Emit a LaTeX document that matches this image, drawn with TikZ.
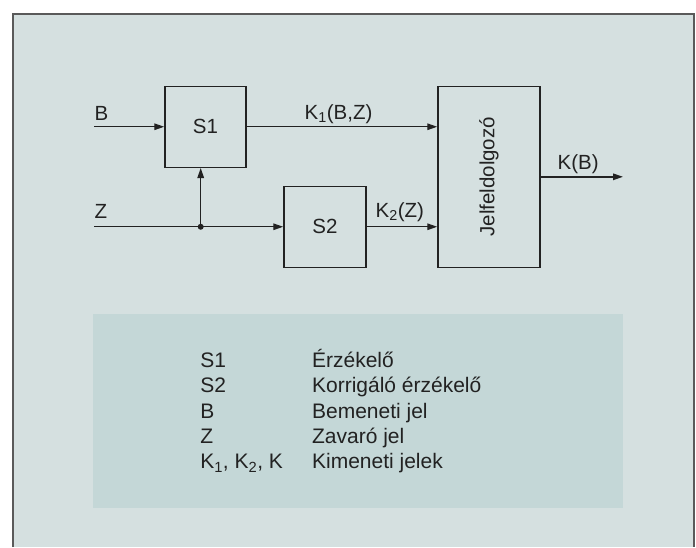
\documentclass[tikz,border=0pt]{standalone}
\usepackage{fontspec}
\setmainfont{Liberation Sans}
\usetikzlibrary{arrows.meta}
\definecolor{bgc}{HTML}{D5E0E0}
\definecolor{legc}{HTML}{C4D7D7}
\definecolor{ink}{HTML}{222222}
\definecolor{framec}{HTML}{5A5A5A}
\begin{document}
\begin{tikzpicture}[x=1pt,y=-1pt,
  font=\fontsize{20.5}{24}\selectfont, line width=1.4pt, draw=ink, text=ink,
  blk/.style={draw=ink, line width=1.5pt, inner sep=0pt},
  lbl/.style={anchor=base west, inner sep=0pt},
  leg/.style={anchor=base west, inner sep=0pt, font=\fontsize{21}{25}\selectfont},
  arr/.style={-{Triangle[length=10pt,width=6.5pt]}}]
\useasboundingbox (0,0) rectangle (696,547);
\fill[bgc] (13,14) rectangle (694,547);
\draw[line width=1.2pt, framec] (13,547) -- (13,14) -- (694,14) -- (694,547);
\fill[legc] (93,314) rectangle (623,508);
% blocks
\node[blk, minimum width=81pt, minimum height=81pt] (s1) at (205.5,126.75) {S1};
\node[blk, minimum width=82pt, minimum height=81pt] (s2) at (325,226.75) {S2};
\node[blk, minimum width=102pt, minimum height=181pt] (jf) at (489,176.8) {};
\node[rotate=90, inner sep=0pt] (jft) at (489,176.8) {Jelfeldolgozó};
% coordinates
\coordinate (bin) at (94,126.75);
\coordinate (zin) at (94,226.75);
\coordinate (j) at (200.7,226.75);
\coordinate (out) at (623,176.8);
% connectors
\draw[arr] (bin) -- (s1.west);
\draw[arr] (s1.east) -- (s1.east -| jf.west);
\draw (zin) -- (j);
\draw[arr] (j) -- (s2.west);
\draw[arr] (j) -- (j |- s1.south);
\fill[ink] (j) circle (3pt);
\draw[arr] (s2.east) -- (s2.east -| jf.west);
\draw[arr] (jf.east) -- (out);
% labels
\node[lbl] (lb) at (94,120.5) {B};
\node[lbl] (lz) at (94,218) {Z};
\node[lbl] (lk1) at (304,119.5) {K\textsubscript{1}(B,Z)};
\node[lbl] (lk2) at (375,217) {K\textsubscript{2}(Z)};
\node[lbl] (lk) at (557,169) {K(B)};
% legend
\node[leg] (a1) at (199.6,367.3) {S1};
\node[leg] (b1) at (311.4,367.3) {Érzékelő};
\node[leg] (a2) at (199.6,392.7) {S2};
\node[leg] (b2) at (311.4,392.7) {Korrigáló érzékelő};
\node[leg] (a3) at (199.6,418.1) {B};
\node[leg] (b3) at (311.4,418.1) {Bemeneti jel};
\node[leg] (a4) at (199.6,443.5) {Z};
\node[leg] (b4) at (311.4,443.5) {Zavaró jel};
\node[leg] (a5) at (199.6,468.9) {K\textsubscript{1}, K\textsubscript{2}, K};
\node[leg] (b5) at (311.4,468.9) {Kimeneti jelek};
\end{tikzpicture}
\end{document}
